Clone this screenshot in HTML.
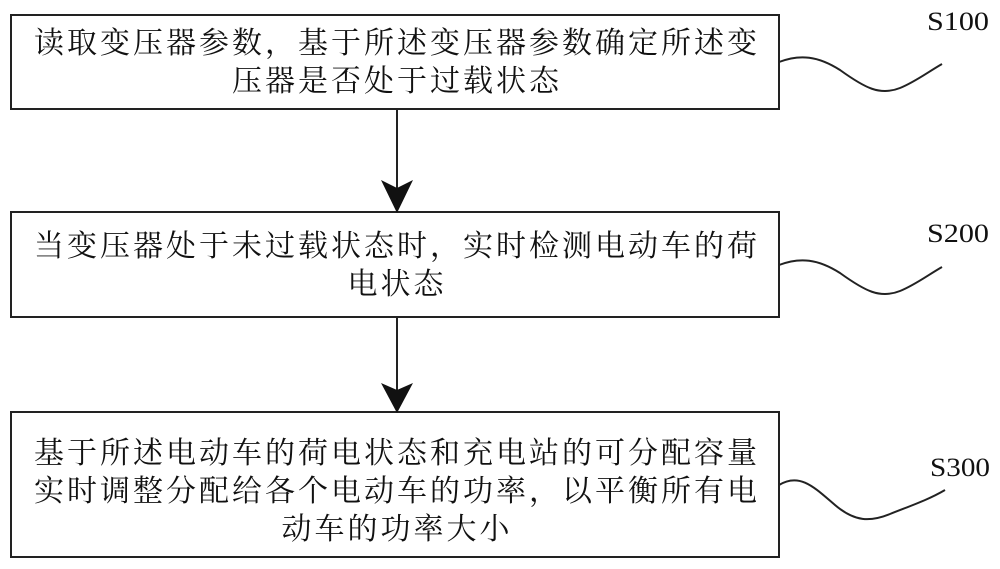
<!DOCTYPE html>
<html><head><meta charset="utf-8"><style>
body{margin:0;background:#fff;}
svg{display:block;}
.t{font-family:"Liberation Serif","Noto Serif CJK SC","WenQuanYi Zen Hei",serif;font-size:30px;fill:#111;letter-spacing:3px;}
.l{font-family:"Liberation Serif",serif;font-size:26px;fill:#111;}
</style></head><body>
<svg width="1000" height="569" viewBox="0 0 1000 569" xmlns="http://www.w3.org/2000/svg">
<g fill="none" stroke="#222" stroke-width="2">
<rect x="11" y="15" width="768" height="94"/>
<rect x="11" y="212" width="768" height="105"/>
<rect x="11" y="412" width="768" height="145"/>
<line x1="397" y1="109" x2="397" y2="195"/>
<line x1="397" y1="317" x2="397" y2="395"/>
<path d="M779,62 C800,54 818,56 840,70 C865,88 880,96 900,88 C915,82 928,72 942,64"/>
<path d="M779,265 C800,257 818,259 840,273 C865,291 880,299 900,291 C915,285 928,275 942,267"/>
<path d="M779,485 C800,472 815,488 835,505 C855,522 870,522 890,514 C910,506 928,500 945,490"/>
</g>
<polygon points="381,180 397,213 413,180 397,188" fill="#111"/>
<polygon points="381,383 397,413 413,383 397,390" fill="#111"/>
<text class="t" x="397" y="53" text-anchor="middle">读取变压器参数，基于所述变压器参数确定所述变</text>
<text class="t" x="397" y="91" text-anchor="middle">压器是否处于过载状态</text>
<text class="t" x="397" y="256" text-anchor="middle">当变压器处于未过载状态时，实时检测电动车的荷</text>
<text class="t" x="397" y="294" text-anchor="middle">电状态</text>
<text class="t" x="397" y="463" text-anchor="middle">基于所述电动车的荷电状态和充电站的可分配容量</text>
<text class="t" x="397" y="501" text-anchor="middle">实时调整分配给各个电动车的功率，以平衡所有电</text>
<text class="t" x="397" y="539" text-anchor="middle">动车的功率大小</text>
<text class="l" x="927" y="30" textLength="62" lengthAdjust="spacingAndGlyphs">S100</text>
<text class="l" x="927" y="242" textLength="62" lengthAdjust="spacingAndGlyphs">S200</text>
<text class="l" x="930" y="476" textLength="60" lengthAdjust="spacingAndGlyphs">S300</text>
</svg>
</body></html>
